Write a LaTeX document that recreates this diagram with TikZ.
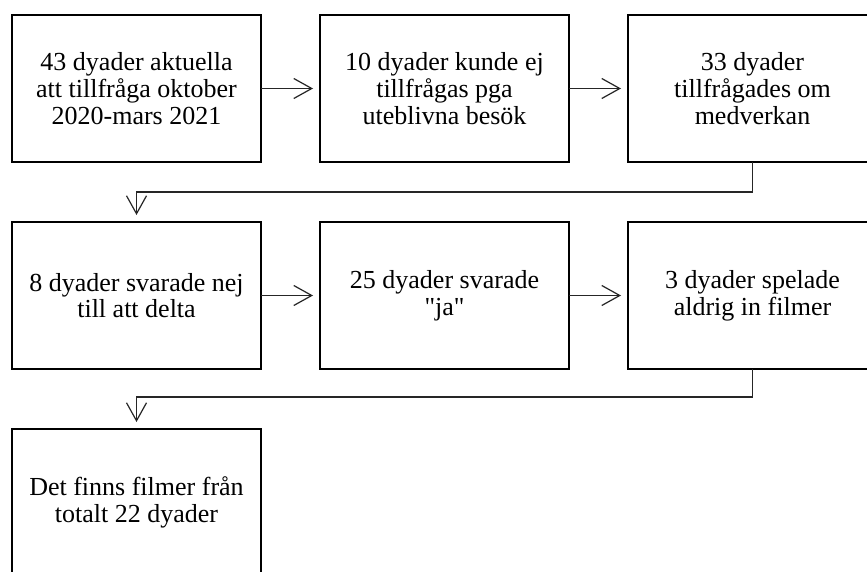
\documentclass[tikz,border=0pt]{standalone}
\usepackage{fontspec}
\setmainfont{Liberation Serif}[Ligatures=TeXOff]
\usetikzlibrary{positioning,arrows.meta}
\tikzstyle{stepBox} = [
 rectangle,
 draw=black,
 line width=2.8pt,
 minimum width=249pt,
 minimum height=147pt,
 outer sep=0pt,
 align = center,
 font=\fontsize{26}{26.7}\selectfont
]
\tikzstyle{conn} = [
 draw=black!85,
 line width=1.2pt,
 -{Straight Barb[length=18pt,width=20pt,line width=1.2pt]},
 shorten >=7pt
]

\begin{document}
\begin{tikzpicture}[node distance=60pt and 59pt]
  \useasboundingbox (0pt,0pt) rectangle (867pt,-572pt);
  \begin{scope}
    \clip (0pt,0pt) rectangle (867pt,-572pt);
    \node [stepBox] (a) at (136.5pt,-88.5pt) {43 dyader aktuella \\ att tillfråga oktober \\ 2020-mars 2021};
    \node [stepBox, right=of a] (b) {10 dyader kunde ej \\ tillfrågas pga \\ uteblivna besök};
    \node [stepBox, right=of b] (c) {33 dyader \\ tillfrågades om \\ medverkan};
    \node [stepBox, below=of a] (d) {8 dyader svarade nej \\ till att delta};
    \node [stepBox, right=of d] (e) {25 dyader svarade \\ "ja"};
    \node [stepBox, right=of e] (f) {3 dyader spelade \\ aldrig in filmer};
    \node [stepBox, below=of d] (g) {Det finns filmer från \\ totalt 22 dyader};
  \end{scope}
  \draw [conn] (a) -- (b);
  \draw [conn] (b) -- (c);
  \draw [conn] (c.south) -- ++(0,-30pt) -| (d.north);
  \draw [conn] (d) -- (e);
  \draw [conn] (e) -- (f);
  \draw [conn] (f.south) -- ++(0,-28pt) -| (g.north);
\end{tikzpicture}
\end{document}
